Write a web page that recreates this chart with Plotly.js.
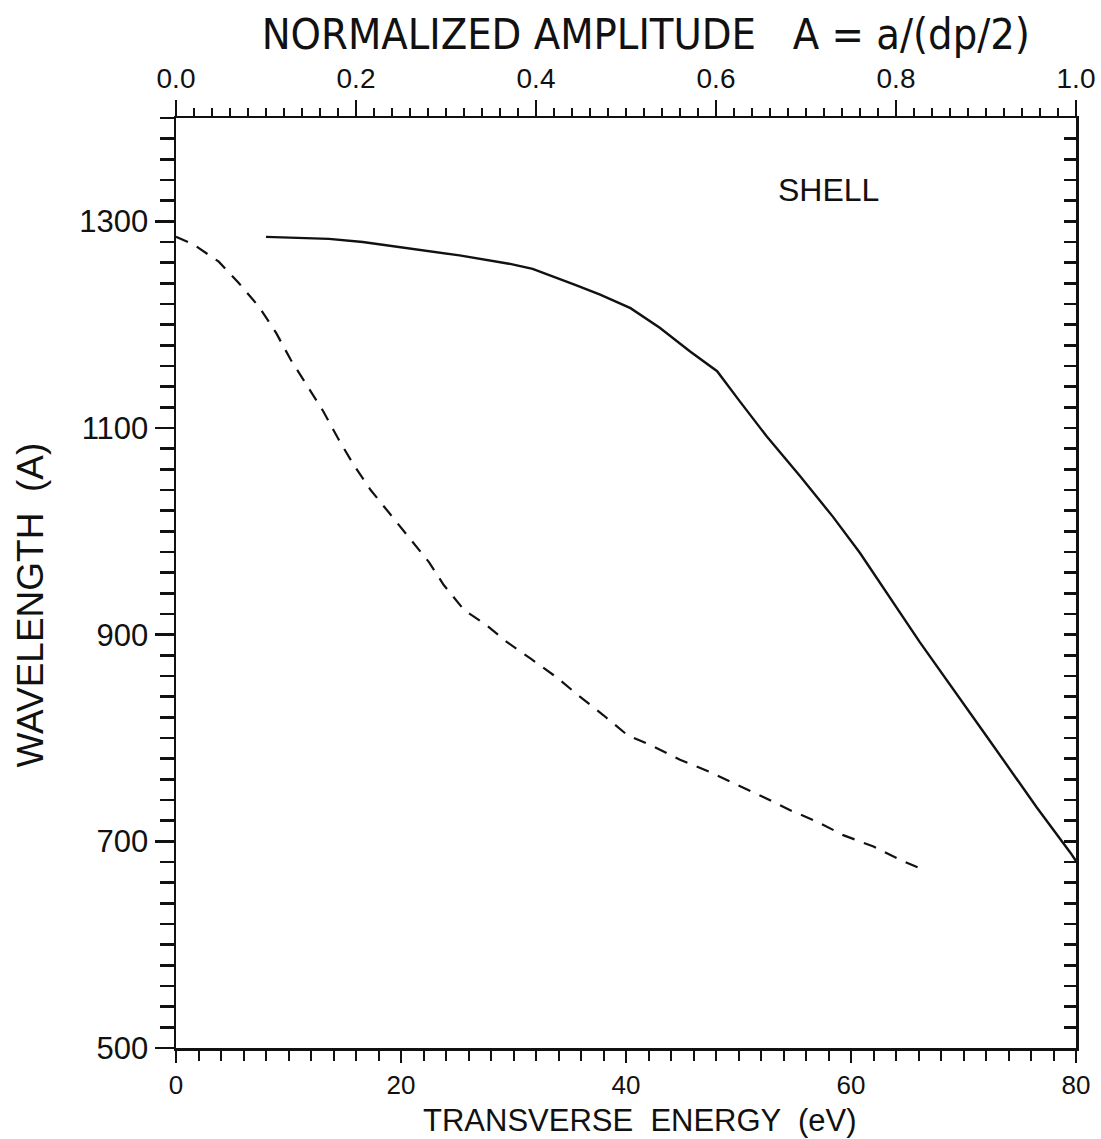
<!DOCTYPE html>
<html>
<head>
<meta charset="utf-8">
<script src="https://cdn.plot.ly/plotly-3.0.1.min.js"></script>
<style>html,body{margin:0;padding:0;background:#fff;}#chart{width:1101px;height:1139px;}</style>
</head>
<body>
<div id="chart"></div>
<script>
// Solid curve (SHELL)
const solidEnergy = [8.0, 13.6, 16.6, 20.7, 25.2, 29.6, 31.7, 35.6, 37.7, 40.4, 43.0, 45.7, 48.1, 50.1, 52.5, 55.5, 58.4, 60.8, 66.1, 72.1, 76.5, 79.5, 80.0];
const solidWavelength = [1285, 1283, 1280, 1274, 1267, 1259, 1254, 1238, 1229, 1216, 1197, 1174, 1155, 1126, 1092, 1053, 1014, 979, 893, 801, 733, 689, 681];

// Dashed curve
const dashedEnergy = [0, 1.5, 3.8, 5.6, 7.4, 8.9, 10.2, 11.6, 13.1, 14.4, 15.7, 17.3, 19.1, 20.7, 22.5, 23.8, 25.6, 27.5, 29.4, 31.5, 33.8, 35.9, 38.0, 40.1, 42.4, 44.8, 47.5, 49.8, 52.2, 54.6, 57.0, 59.3, 62.0, 64.4, 66.1];
const dashedWavelength = [1285, 1278, 1261, 1240, 1217, 1192, 1166, 1142, 1116, 1090, 1066, 1040, 1016, 995, 970, 948, 924, 910, 893, 877, 859, 840, 822, 803, 792, 779, 767, 755, 743, 730, 719, 706, 695, 682, 674];

const bottomTicks = [0, 20, 40, 60, 80];
const leftTicks = [500, 700, 900, 1100, 1300];
const topTicks = [0.0, 0.2, 0.4, 0.6, 0.8, 1.0];
const topTickLabels = ["0.0", "0.2", "0.4", "0.6", "0.8", "1.0"];

const FONT = "'Liberation Sans', Arial, sans-serif";
const NARROW = "'Liberation Sans Narrow', 'DejaVu Sans Condensed', 'Liberation Sans', sans-serif";
const INK = "#111";

const traces = [
  {x: solidEnergy, y: solidWavelength, mode: "lines", type: "scatter",
   line: {color: INK, width: 2.4}, showlegend: false, hoverinfo: "skip"},
  {x: dashedEnergy, y: dashedWavelength, mode: "lines", type: "scatter",
   line: {color: INK, width: 2.2, dash: "13px,10px"}, showlegend: false, hoverinfo: "skip"},
  // invisible traces to activate secondary axes
  {x: [0, 1], y: [500, 500], xaxis: "x2", yaxis: "y", mode: "lines", line: {width: 0}, opacity: 0, showlegend: false, hoverinfo: "skip"},
  {x: [0, 80], y: [500, 500], xaxis: "x", yaxis: "y2", mode: "lines", line: {width: 0}, opacity: 0, showlegend: false, hoverinfo: "skip"}
];

const layout = {
  width: 1101, height: 1139,
  margin: {l: 176, r: 25, t: 118, b: 91, pad: 0},
  paper_bgcolor: "#fff", plot_bgcolor: "#fff",
  showlegend: false,
  title: {text: "NORMALIZED AMPLITUDE   A = a/(dp/2)", font: {family: NARROW, size: 43, color: INK},
          xref: "paper", x: 0.522, xanchor: "center", yref: "container", y: 0.97, yanchor: "middle"},
  xaxis: {
    range: [0, 80], tickvals: bottomTicks, ticktext: bottomTicks.map(String),
    ticks: "outside", ticklen: 12, tickwidth: 2, tickcolor: INK,
    minor: {dtick: 2, ticks: "outside", ticklen: 10, tickwidth: 2, tickcolor: INK},
    showline: true, linewidth: 2.5, linecolor: INK, mirror: false,
    showgrid: false, zeroline: false,
    tickfont: {family: FONT, size: 26, color: INK},
    fixedrange: true
  },
  xaxis2: {
    overlaying: "x", side: "top", anchor: "y", range: [0, 1],
    tickvals: topTicks, ticktext: topTickLabels,
    ticks: "outside", ticklen: 16, tickwidth: 2, tickcolor: INK,
    minor: {dtick: 0.02, ticks: "outside", ticklen: 8, tickwidth: 2, tickcolor: INK},
    showline: true, linewidth: 2.5, linecolor: INK,
    showgrid: false, zeroline: false,
    tickfont: {family: FONT, size: 28, color: INK},
    fixedrange: true
  },
  yaxis: {
    range: [500, 1400], tickvals: leftTicks, ticktext: leftTicks.map(String),
    ticks: "outside", ticklen: 19, tickwidth: 2.5, tickcolor: INK,
    minor: {dtick: 20, ticks: "outside", ticklen: 14, tickwidth: 2.5, tickcolor: INK},
    showline: true, linewidth: 2.5, linecolor: INK, mirror: false,
    showgrid: false, zeroline: false,
    tickfont: {family: FONT, size: 31, color: INK},
    fixedrange: true
  },
  yaxis2: {
    overlaying: "y", side: "right", anchor: "x", range: [500, 1400],
    tickvals: leftTicks, showticklabels: false,
    ticks: "inside", ticklen: 12, tickwidth: 2.5, tickcolor: INK,
    minor: {dtick: 20, ticks: "inside", ticklen: 12, tickwidth: 2.5, tickcolor: INK},
    showline: true, linewidth: 2.5, linecolor: INK,
    showgrid: false, zeroline: false,
    fixedrange: true
  },
  annotations: [
    {x: 58, y: 1330, xref: "x", yref: "y", text: "SHELL", showarrow: false,
     font: {family: FONT, size: 32, color: INK}, xanchor: "center", yanchor: "middle"},
    {x: -0.162, y: 0.476, xref: "paper", yref: "paper", text: "WAVELENGTH  (A)", textangle: -90, showarrow: false,
     font: {family: FONT, size: 37, color: INK}, xanchor: "center", yanchor: "middle"},
    {x: 0.516, y: -0.057, xref: "paper", yref: "paper", text: "TRANSVERSE  ENERGY  (eV)", showarrow: false,
     font: {family: FONT, size: 31, color: INK}, xanchor: "center", yanchor: "top"}
  ]
};

Plotly.newPlot("chart", traces, layout, {staticPlot: true, displayModeBar: false});
</script>
</body>
</html>
